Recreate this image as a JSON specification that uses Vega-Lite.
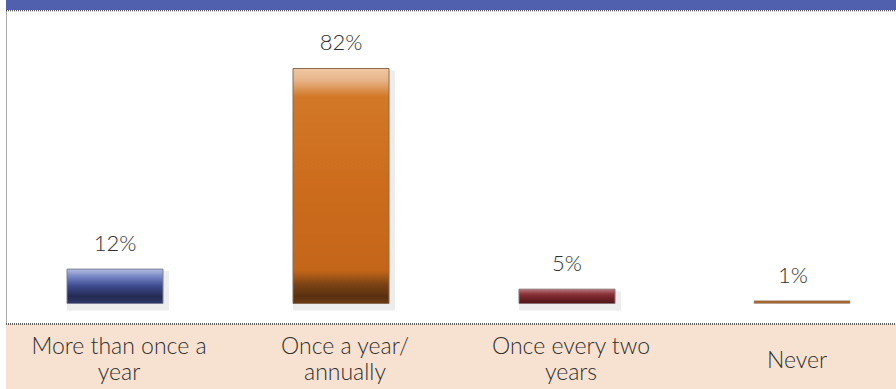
{
  "$schema": "https://vega.github.io/schema/vega-lite/v6.json",
  "width": 891,
  "height": 389,
  "autosize": {"type": "none"},
  "padding": {"left": 6, "top": 0, "right": 0, "bottom": 0},
  "background": "white",
  "config": {
    "view": {"stroke": "#555555", "strokeWidth": 1, "strokeDash": [1, 1]},
    "text": {"font": "Lato", "fontWeight": 300, "fill": "#2f2f2f"}
  },
  "data": {
    "values": [
      {"cat": "More than once a\nyear", "pct": 0.12},
      {"cat": "Once a year/\nannually", "pct": 0.82},
      {"cat": "Once every two\nyears", "pct": 0.05},
      {"cat": "Never", "pct": 0.01}
    ]
  },
  "encoding": {
    "x": {
      "field": "cat",
      "type": "nominal",
      "axis": null,
      "scale": {
        "domain": ["More than once a\nyear", "Once a year/\nannually", "Once every two\nyears", "Never"],
        "range": [0, 904],
        "paddingInner": 0,
        "paddingOuter": 0
      }
    }
  },
  "layer": [
    {
      "mark": {"type": "rect", "fill": "#F7E2D1"},
      "encoding": {
        "x": null,
        "y": {"datum": -0.0715, "type": "quantitative", "axis": null, "scale": {"domain": [-0.2983, 1.059], "nice": false, "zero": false}},
        "y2": {"datum": -0.2983}
      }
    },
    {
      "mark": {"type": "rect", "fill": "#5060AE"},
      "encoding": {
        "x": null,
        "y": {"datum": 1.059, "type": "quantitative", "axis": null},
        "y2": {"datum": 1.024}
      }
    },
    {
      "mark": {"type": "rule", "stroke": "#555555", "strokeWidth": 1, "strokeDash": [1, 1]},
      "encoding": {"x": null, "y": {"datum": 1.022, "type": "quantitative", "axis": null}}
    },
    {
      "mark": {"type": "rule", "stroke": "#555555", "strokeWidth": 1, "strokeDash": [1, 1]},
      "encoding": {"x": null, "y": {"datum": -0.0715, "type": "quantitative", "axis": null}}
    },
    {
      "transform": [{"filter": "datum.cat != 'Never'"}],
      "mark": {"type": "bar", "width": 102, "xOffset": -1, "yOffset": 2, "y2Offset": 7, "fill": "#000000", "opacity": 0.07},
      "encoding": {"y": {"field": "pct", "type": "quantitative", "axis": null}, "y2": {"datum": 0}}
    },
    {
      "transform": [{"filter": "datum.pct == 0.12"}],
      "mark": {
        "type": "bar", "width": 96, "xOffset": -4, "stroke": "#7a7f99", "strokeWidth": 1,
        "fill": {"gradient": "linear", "x1": 0, "y1": 0, "x2": 0, "y2": 1, "stops": [
          {"offset": 0, "color": "#B4BCE0"},
          {"offset": 0.25, "color": "#6E7EC0"},
          {"offset": 0.5, "color": "#3C4A8C"},
          {"offset": 0.8, "color": "#232B52"},
          {"offset": 1, "color": "#2E3868"}
        ]}
      },
      "encoding": {"y": {"field": "pct", "type": "quantitative", "axis": null}, "y2": {"datum": 0}}
    },
    {
      "transform": [{"filter": "datum.pct == 0.82"}],
      "mark": {
        "type": "bar", "width": 96, "xOffset": -4, "stroke": "#8a6a50", "strokeWidth": 1,
        "fill": {"gradient": "linear", "x1": 0, "y1": 0, "x2": 0, "y2": 1, "stops": [
          {"offset": 0, "color": "#EFC8A2"},
          {"offset": 0.05, "color": "#E8B48A"},
          {"offset": 0.12, "color": "#D27826"},
          {"offset": 0.5, "color": "#CC6C1C"},
          {"offset": 0.86, "color": "#C4661A"},
          {"offset": 0.92, "color": "#7A4214"},
          {"offset": 0.97, "color": "#5A3010"},
          {"offset": 1, "color": "#6A3A14"}
        ]}
      },
      "encoding": {"y": {"field": "pct", "type": "quantitative", "axis": null}, "y2": {"datum": 0}}
    },
    {
      "transform": [{"filter": "datum.pct == 0.05"}],
      "mark": {
        "type": "bar", "width": 96, "xOffset": -4, "stroke": "#8a7070", "strokeWidth": 1,
        "fill": {"gradient": "linear", "x1": 0, "y1": 0, "x2": 0, "y2": 1, "stops": [
          {"offset": 0, "color": "#B87880"},
          {"offset": 0.35, "color": "#8A3038"},
          {"offset": 0.7, "color": "#6A2025"},
          {"offset": 1, "color": "#4A1518"}
        ]}
      },
      "encoding": {"y": {"field": "pct", "type": "quantitative", "axis": null}, "y2": {"datum": 0}}
    },
    {
      "transform": [{"filter": "datum.pct == 0.01"}],
      "mark": {"type": "bar", "width": 96, "xOffset": 5, "fill": "#A8652C", "stroke": "#999999", "strokeWidth": 0.5},
      "encoding": {"y": {"field": "pct", "type": "quantitative", "axis": null}, "y2": {"datum": 0}}
    },
    {
      "mark": {"type": "text", "baseline": "alphabetic", "align": "center", "dy": -18, "xOffset": -4, "fontSize": 22},
      "encoding": {
        "y": {"field": "pct", "type": "quantitative", "axis": null},
        "text": {"field": "pct", "type": "quantitative", "format": ".0%"}
      }
    },
    {
      "transform": [{"filter": "datum.cat != 'Never'"}],
      "mark": {"type": "text", "baseline": "alphabetic", "align": "center", "lineBreak": "\n", "lineHeight": 26, "fontSize": 23},
      "encoding": {
        "y": {"datum": -0.1762, "type": "quantitative", "axis": null},
        "text": {"field": "cat", "type": "nominal"}
      }
    },
    {
      "transform": [{"filter": "datum.cat == 'Never'"}],
      "mark": {"type": "text", "baseline": "alphabetic", "align": "center", "fontSize": 23},
      "encoding": {
        "y": {"datum": -0.225, "type": "quantitative", "axis": null},
        "text": {"field": "cat", "type": "nominal"}
      }
    }
  ]
}
